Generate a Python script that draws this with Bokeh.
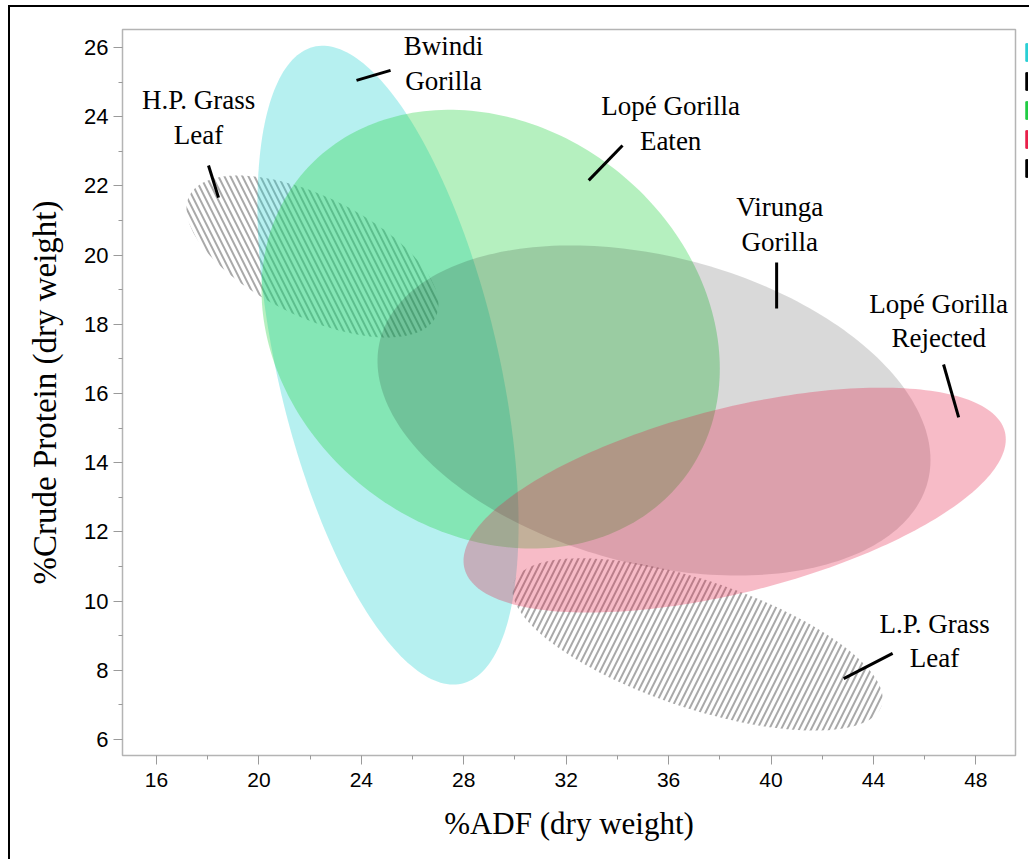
import numpy as np
from bokeh.plotting import figure
from bokeh.models import Range1d, FixedTicker, Legend, LegendItem
from bokeh.core.properties import value
from bokeh.embed import file_html
from bokeh.resources import INLINE

# ---- data: confidence ellipses (%ADF vs %Crude Protein) ----
groups = ["H.P. Grass Leaf", "L.P. Grass Leaf", "Bwindi Gorilla",
          "Lopé Gorilla Eaten", "Virunga Gorilla", "Lopé Gorilla Rejected"]
center_adf = [22.09, 37.13, 25.04, 29.05, 35.43, 38.58]
center_cp = [19.96, 8.75, 16.82, 17.86, 15.51, 12.92]
half_adf = [4.92, 7.23, 5.10, 8.95, 10.80, 10.59]
half_cp = [2.34, 2.49, 9.23, 6.34, 4.77, 3.25]
corr = [-0.59, -0.63, -0.50, -0.18, -0.30, 0.54]

# ---- annotations ----
label_text = ["Bwindi\nGorilla", "H.P. Grass\nLeaf", "Lopé Gorilla\nEaten",
              "Virunga\nGorilla", "Lopé Gorilla\nRejected", "L.P. Grass\nLeaf"]
label_adf = [27.21, 17.64, 36.08, 40.34, 46.55, 46.39]
label_cp = [25.54, 23.98, 23.80, 20.88, 18.10, 8.85]
lead_x0 = [23.81, 18.03, 32.88, 40.22, 46.74, 42.84]
lead_y0 = [25.05, 22.59, 22.16, 19.79, 16.84, 7.76]
lead_x1 = [25.14, 18.42, 34.20, 40.22, 47.33, 44.75]
lead_y1 = [25.34, 21.66, 23.17, 18.46, 15.31, 8.49]

x_ticks = [16, 20, 24, 28, 32, 36, 40, 44, 48]
x_minor = [18, 22, 26, 30, 34, 38, 42, 46]
y_ticks = [6, 8, 10, 12, 14, 16, 18, 20, 22, 24, 26]
y_minor = [7, 9, 11, 13, 15, 17, 19, 21, 23, 25]

legend_colors = ["#2ACFD4", "#000000", "#22CC44", "#E8204A", "#000000"]

styles = {
    "H.P. Grass Leaf": dict(fill_alpha=0, hatch_pattern="\\", hatch_color="#858585",
                            hatch_alpha=0.7, hatch_scale=12, hatch_weight=2),
    "L.P. Grass Leaf": dict(fill_alpha=0, hatch_pattern="/", hatch_color="#858585",
                            hatch_alpha=0.7, hatch_scale=12, hatch_weight=2),
    "Bwindi Gorilla": dict(fill_color="#20D0D0", fill_alpha=0.33),
    "Lopé Gorilla Eaten": dict(fill_color="#1ED23C", fill_alpha=0.33),
    "Virunga Gorilla": dict(fill_color="#000000", fill_alpha=0.15),
    "Lopé Gorilla Rejected": dict(fill_color="#E61E46", fill_alpha=0.3),
}

p = figure(frame_width=893, frame_height=726,
           x_range=Range1d(14.67, 49.55), y_range=Range1d(5.54, 26.52),
           output_backend="svg", toolbar_location=None,
           min_border_left=112, min_border_top=22, min_border_bottom=104,
           min_border_right=14)
p.styles = {"border-left": "2px solid black", "border-top": "2px solid black",
            "margin-top": "5px", "margin-left": "8px"}

p.xgrid.visible = False
p.ygrid.visible = False
p.outline_line_color = "#b4b4b4"
p.outline_line_width = 1.5
p.background_fill_color = "white"

t = np.linspace(0, 2 * np.pi, 240)
for g, cx, cy, sx, sy, r in zip(groups, center_adf, center_cp, half_adf, half_cp, corr):
    xs = cx + sx * np.cos(t)
    ys = cy + sy * (r * np.cos(t) + np.sqrt(1 - r * r) * np.sin(t))
    p.patch(xs, ys, line_color=None, **styles[g])

p.segment(lead_x0, lead_y0, lead_x1, lead_y1, line_color="black", line_width=3)
p.text(x=label_adf, y=label_cp, text=label_text, text_font=value("Liberation Serif"),
       text_font_size="27px", text_align="center", text_baseline="middle",
       text_line_height=1.15, text_color="black")

# axes
p.xaxis.ticker = FixedTicker(ticks=x_ticks, minor_ticks=x_minor)
p.yaxis.ticker = FixedTicker(ticks=y_ticks, minor_ticks=y_minor)
for ax in (p.xaxis[0], p.yaxis[0]):
    ax.axis_line_color = None
    ax.major_tick_out = 9
    ax.major_tick_in = 0
    ax.minor_tick_out = 4
    ax.minor_tick_in = 0
    ax.major_tick_line_color = "#9a9a9a"
    ax.minor_tick_line_color = "#9a9a9a"
    ax.major_label_text_font = "Liberation Sans"
    ax.major_label_text_color = "black"
    ax.axis_label_text_font = "Liberation Serif"
    ax.axis_label_text_font_style = "normal"
    ax.axis_label_text_color = "black"
p.xaxis.axis_label = "%ADF (dry weight)"
p.yaxis.axis_label = "%Crude Protein (dry weight)"
p.xaxis.major_label_text_font_size = "21px"
p.yaxis.major_label_text_font_size = "22px"
p.xaxis.axis_label_text_font_size = "31px"
p.yaxis.axis_label_text_font_size = "33px"
p.xaxis.major_label_standoff = 8
p.yaxis.major_label_standoff = 5
p.xaxis.axis_label_standoff = 16
p.yaxis.axis_label_standoff = 18

# partially visible legend swatches at the right edge (off-range dummy quads)
items = []
for c in legend_colors:
    rr = p.quad(left=[100], right=[101], top=[100], bottom=[99],
                fill_color=c, line_color=c, line_width=1)
    items.append(LegendItem(label=" ", renderers=[rr]))
legend = Legend(items=items, location=(10, 576), glyph_width=3, glyph_height=22,
                spacing=7, padding=0, margin=0, border_line_color=None,
                background_fill_alpha=0, label_text_font_size="1px",
                label_standoff=0, label_width=0)
p.add_layout(legend, "right")

open("out.html", "w").write(file_html(p, INLINE))
